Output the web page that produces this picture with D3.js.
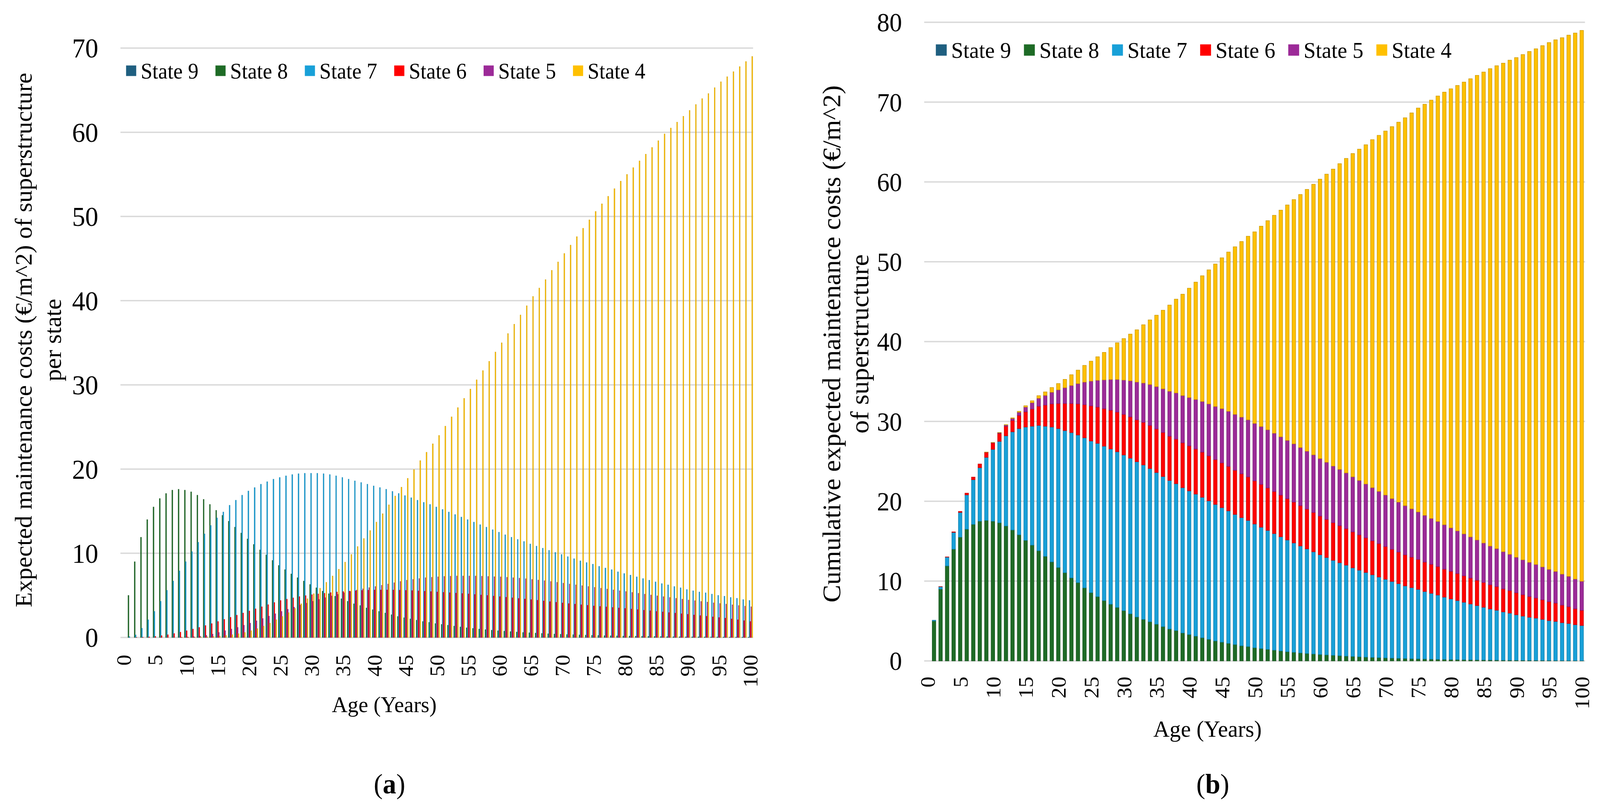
<!DOCTYPE html>
<html><head><meta charset="utf-8">
<script src="https://cdn.jsdelivr.net/npm/d3@7/dist/d3.min.js"></script>
<style>html,body{margin:0;padding:0;background:#fff;overflow:hidden;} svg{display:block;width:100vw;height:100vh;}</style>
</head><body>
<svg id="chart" viewBox="0 0 4264 2075" preserveAspectRatio="none"></svg>
<script>
// ---------------- DATA ----------------
const ages = [0,1,2,3,4,5,6,7,8,9,10,11,12,13,14,15,16,17,18,19,20,21,22,23,24,25,26,27,28,29,30,31,32,33,34,35,36,37,38,39,40,41,42,43,44,45,46,47,48,49,50,51,52,53,54,55,56,57,58,59,60,61,62,63,64,65,66,67,68,69,70,71,72,73,74,75,76,77,78,79,80,81,82,83,84,85,86,87,88,89,90,91,92,93,94,95,96,97,98,99,100];
const stateNames = ["State 9","State 8","State 7","State 6","State 5","State 4"];
const stateColors = ["#1F5F80","#1E6B26","#18A0D8","#FF0000","#9C2A98","#FFC000"];

const state9 = [0,0,0,0,0,0,0,0,0,0,0,0,0,0,0,0,0,0,0,0,0,0,0,0,0,0,0,0,0,0,0,0,0,0,0,0,0,0,0,0,0,0,0,0,0,0,0,0,0,0,0,0,0,0,0,0,0,0,0,0,0,0,0,0,0,0,0,0,0,0,0,0,0,0,0,0,0,0,0,0,0,0,0,0,0,0,0,0,0,0,0,0,0,0,0,0,0,0,0,0,0];
const state8 = [0,5.0,9.0,11.9,14.0,15.5,16.5,17.1,17.5,17.6,17.5,17.3,16.9,16.4,15.8,15.1,14.5,13.8,13.1,12.4,11.7,11.05,10.4,9.8,9.15,8.55,8.05,7.55,7.1,6.7,6.3,5.9,5.5,5.2,4.9,4.6,4.3,4.0,3.8,3.5,3.3,3.1,2.9,2.7,2.5,2.35,2.2,2.05,1.9,1.8,1.65,1.55,1.45,1.35,1.25,1.15,1.08,1.0,0.93,0.87,0.8,0.75,0.7,0.65,0.6,0.56,0.52,0.48,0.44,0.41,0.38,0.35,0.33,0.3,0.28,0.26,0.24,0.22,0.2,0.19,0.17,0.16,0.15,0.14,0.13,0.12,0.11,0.1,0.09,0.085,0.08,0.07,0.065,0.06,0.055,0.05,0.045,0.04,0.04,0.035,0.03];
const state7 = [0,0.1,0.3,1.1,2.1,3.1,4.3,5.6,6.7,7.9,9.0,10.2,11.3,12.3,13.3,14.2,14.9,15.7,16.3,16.9,17.4,17.8,18.2,18.5,18.8,19.0,19.2,19.35,19.45,19.5,19.5,19.5,19.45,19.35,19.2,19.0,18.8,18.6,18.4,18.2,18.0,17.8,17.6,17.35,17.1,16.85,16.6,16.3,16.05,15.8,15.5,15.2,14.9,14.6,14.3,14.0,13.7,13.4,13.1,12.8,12.5,12.2,11.9,11.65,11.4,11.1,10.85,10.6,10.35,10.1,9.85,9.6,9.35,9.1,8.9,8.7,8.45,8.25,8.05,7.8,7.6,7.4,7.2,7.0,6.8,6.6,6.4,6.25,6.05,5.9,5.7,5.55,5.4,5.3,5.15,5.0,4.9,4.75,4.65,4.5,4.4];
const state6 = [0,0,0.01,0.03,0.07,0.13,0.22,0.33,0.47,0.63,0.8,1.0,1.2,1.42,1.65,1.9,2.15,2.4,2.65,2.9,3.15,3.4,3.65,3.9,4.15,4.4,4.55,4.7,4.85,4.97,5.08,5.17,5.25,5.33,5.4,5.46,5.51,5.55,5.59,5.62,5.64,5.65,5.65,5.64,5.62,5.6,5.57,5.53,5.49,5.45,5.4,5.36,5.32,5.27,5.22,5.17,5.11,5.05,4.99,4.92,4.85,4.78,4.71,4.64,4.57,4.5,4.42,4.34,4.26,4.18,4.1,4.03,3.96,3.89,3.82,3.75,3.69,3.63,3.57,3.51,3.45,3.38,3.31,3.24,3.17,3.1,3.03,2.96,2.89,2.82,2.75,2.67,2.6,2.52,2.45,2.37,2.3,2.2,2.1,2.0,1.9];
const state5 = [0,0,0,0,0,0,0,0,0,0.02,0.05,0.09,0.15,0.25,0.4,0.6,0.8,1.0,1.2,1.45,1.7,1.97,2.25,2.53,2.82,3.1,3.35,3.6,3.85,4.08,4.3,4.52,4.73,4.93,5.12,5.3,5.47,5.63,5.78,5.92,6.05,6.2,6.35,6.5,6.65,6.8,6.9,7.0,7.1,7.15,7.2,7.25,7.28,7.3,7.3,7.3,7.3,7.28,7.25,7.22,7.2,7.15,7.1,7.05,6.98,6.9,6.82,6.74,6.65,6.55,6.45,6.35,6.25,6.15,6.05,5.95,5.85,5.75,5.65,5.55,5.45,5.35,5.25,5.15,5.05,4.95,4.85,4.75,4.65,4.55,4.45,4.37,4.28,4.2,4.12,4.04,3.96,3.88,3.8,3.72,3.65];
const state4 = [0,0,0,0,0,0,0,0,0,0.01,0.02,0.03,0.05,0.08,0.12,0.17,0.24,0.33,0.45,0.6,0.8,1.05,1.35,1.7,2.1,2.5,2.95,3.45,4.0,4.6,5.2,5.85,6.55,7.3,8.1,8.95,9.85,10.8,11.75,12.7,13.7,14.7,15.75,16.8,17.85,18.9,19.95,21.0,22.0,23.0,24.0,25.1,26.2,27.3,28.4,29.5,30.6,31.7,32.8,33.9,35.0,36.1,37.2,38.3,39.4,40.5,41.5,42.5,43.6,44.6,45.6,46.6,47.6,48.6,49.6,50.6,51.5,52.4,53.3,54.2,55.0,55.8,56.6,57.4,58.2,59.0,59.8,60.5,61.2,61.9,62.6,63.3,64.0,64.6,65.3,66.0,66.6,67.2,67.8,68.4,69.0];

const yTicksA = [0,10,20,30,40,50,60,70];
const yTicksB = [0,10,20,30,40,50,60,70,80];
const xTickLabels = ["0","5","10","15","20","25","30","35","40","45","50","55","60","65","70","75","80","85","90","95","100"];
const yTitleA = ["Expected maintenance costs (€/m^2) of superstructure", "per state"];
const yTitleB = ["Cumulative expected maintenance costs (€/m^2)", "of superstructure"];
const xTitle = "Age (Years)";
const panelLabels = ["a", "b"];

// ---------------- BUILD ----------------
const series = [state9, state8, state7, state6, state5, state4];
const table = ages.map((a, i) => {
  const row = {age: a};
  stateNames.forEach((n, k) => row[n] = series[k][i]);
  return row;
});
const color = d3.scaleOrdinal().domain(stateNames).range(stateColors);
const FONT = "'Liberation Serif','Times New Roman',serif";
const svg = d3.select("#chart");
svg.append("rect").attr("width", 4264).attr("height", 2075).attr("fill", "#fff");

function drawPanel(cfg) {
  const g = svg.append("g");
  const x = d3.scaleBand().domain(ages).range([cfg.x0, cfg.x1]).paddingInner(cfg.pad).paddingOuter(cfg.pad / 2);
  const y = d3.scaleLinear().domain([0, cfg.ymax]).range([cfg.y0, cfg.yTop]);

  // gridlines
  g.append("g").selectAll("line").data(cfg.yTicks).join("line")
    .attr("x1", cfg.x0).attr("x2", cfg.x1)
    .attr("y1", d => y(d)).attr("y2", d => y(d))
    .attr("stroke", "#d9d9d9").attr("stroke-width", 3.5);

  // y tick labels
  g.append("g").selectAll("text").data(cfg.yTicks).join("text")
    .attr("x", cfg.tickX).attr("y", d => y(d)).attr("dy", "0.35em")
    .attr("text-anchor", "end").attr("font-family", FONT).attr("font-size", cfg.tickFs)
    .attr("fill", "#000").text(d => d);

  // bars
  if (cfg.stacked) {
    const stack = d3.stack().keys(stateNames)(table);
    g.append("g").selectAll("g").data(stack).join("g")
      .attr("fill", d => color(d.key))
      .attr("stroke", d => d3.color(color(d.key)).darker(0.7))
      .attr("stroke-width", 1.2)
      .selectAll("rect").data(d => d.filter(p => p[1] - p[0] > 0)).join("rect")
      .attr("x", d => x(d.data.age)).attr("width", x.bandwidth())
      .attr("y", d => y(d[1])).attr("height", d => y(d[0]) - y(d[1]));
  } else {
    const x1 = d3.scaleBand().domain(stateNames).range([0, x.bandwidth()]);
    g.append("g").selectAll("g").data(table).join("g")
      .attr("transform", d => `translate(${x(d.age)},0)`)
      .selectAll("rect").data(d => stateNames.map(n => ({key: n, v: d[n]})).filter(e => e.v > 0)).join("rect")
      .attr("x", d => x1(d.key)).attr("width", x1.bandwidth())
      .attr("y", d => y(d.v)).attr("height", d => y(0) - y(d.v))
      .attr("fill", d => color(d.key))
      .attr("stroke", d => d3.color(color(d.key)).darker(0.6)).attr("stroke-width", 0.8);
  }

  // x tick labels (rotated)
  g.append("g").selectAll("text").data(xTickLabels).join("text")
    .attr("transform", d => `translate(${x(+d) + x.bandwidth() / 2},${cfg.y0 + cfg.xLabOff}) rotate(-90)`)
    .attr("dy", "0.35em").attr("text-anchor", "end")
    .attr("font-family", FONT).attr("font-size", cfg.xTickFs).attr("fill", "#000").text(d => d);

  // legend
  const lg = g.append("g");
  stateNames.forEach((n, k) => {
    const lx = cfg.legX + k * cfg.legStep;
    lg.append("rect").attr("x", lx).attr("y", cfg.legY - cfg.legSq / 2)
      .attr("width", cfg.legSq).attr("height", cfg.legSq).attr("fill", color(n));
    lg.append("text").attr("x", lx + cfg.legSq + 12).attr("y", cfg.legY).attr("dy", "0.35em")
      .attr("font-family", FONT).attr("font-size", cfg.legFs).attr("fill", "#000").text(n);
  });

  // y title
  const yt = g.append("text").attr("font-family", FONT).attr("font-size", cfg.yTitleFs)
    .attr("text-anchor", "middle").attr("fill", "#000")
    .attr("transform", `translate(${cfg.yTitleX},${cfg.yTitleY}) rotate(-90)`);
  cfg.yTitle.forEach((t, i) => {
    yt.append("tspan").attr("x", 0).attr("y", i * cfg.yTitleLh).attr("dy", "0.35em").text(t);
  });

  // x title
  g.append("text").attr("x", cfg.xTitleX).attr("y", cfg.xTitleY).attr("dy", "0.35em")
    .attr("text-anchor", "middle").attr("font-family", FONT).attr("font-size", cfg.xTitleFs)
    .attr("fill", "#000").text(xTitle);

  // panel label
  const pl = g.append("text").attr("x", cfg.xTitleX + 14).attr("y", 2005).attr("dy", "0.35em")
    .attr("text-anchor", "middle").attr("font-family", FONT).attr("font-size", 72).attr("fill", "#000");
  pl.append("tspan").text("(");
  pl.append("tspan").attr("font-weight", "bold").text(cfg.panel);
  pl.append("tspan").text(")");
}

drawPanel({
  x0: 321, x1: 2007, y0: 1631, yTop: 123, ymax: 70, yTicks: yTicksA, pad: 0.12,
  stacked: false, tickX: 262, tickFs: 70, xTickFs: 56, xLabOff: 44,
  legX: 336, legY: 181, legStep: 238.2, legSq: 27, legFs: 56,
  yTitle: yTitleA, yTitleX: 62, yTitleY: 870, yTitleLh: 78, yTitleFs: 63,
  xTitleX: 1024, xTitleY: 1802, xTitleFs: 58, panel: panelLabels[0]
});
drawPanel({
  x0: 2463, x1: 4224, y0: 1691, yTop: 57, ymax: 80, yTicks: yTicksB, pad: 0.45,
  stacked: true, tickX: 2404, tickFs: 67, xTickFs: 56, xLabOff: 40,
  legX: 2494, legY: 128, legStep: 234.8, legSq: 29, legFs: 58,
  yTitle: yTitleB, yTitleX: 2215, yTitleY: 880, yTitleLh: 75, yTitleFs: 68,
  xTitleX: 3218, xTitleY: 1864, xTitleFs: 60, panel: panelLabels[1]
});
</script>
</body></html>
